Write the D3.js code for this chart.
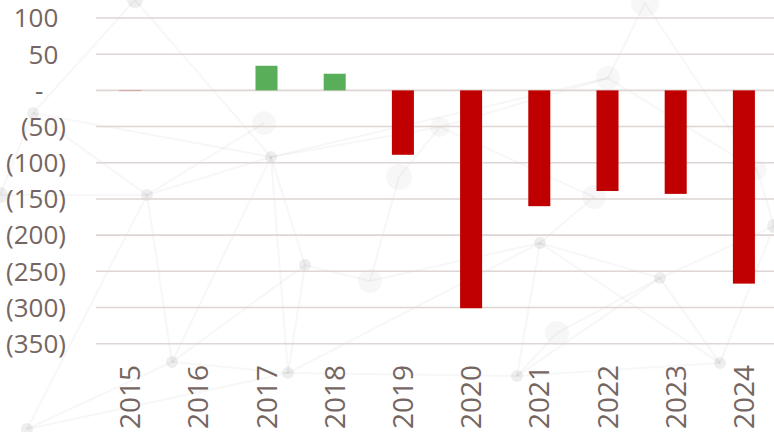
<!DOCTYPE html>
<html>
<head>
<meta charset="utf-8">
<script src="https://cdn.jsdelivr.net/npm/d3@7"></script>
<style>
  html, body { margin: 0; padding: 0; background: #fff; }
  svg { display: block; }
  text { font-family: "Open Sans", sans-serif; fill: #756661; }
</style>
</head>
<body>
<svg id="chart" width="774" height="432"></svg>
<script>
'use strict';

// chart data
const years = ['2015', '2016', '2017', '2018', '2019', '2020', '2021', '2022', '2023', '2024'];
const values = [-1, 0, 34, 23, -89, -301, -160, -139, -143, -267];
const yTicks = [100, 50, 0, -50, -100, -150, -200, -250, -300, -350];

// faint network decoration behind the chart (not data)
const bgNodes = [
  [33, 113, 6], [264, 123, 12], [271, 157, 6], [147, 195, 6], [399, 177, 13],
  [608, 78, 12], [645, 3, 14], [594, 197, 12], [305, 265, 6], [172, 362, 6],
  [288, 373, 6], [27, 429, 6], [370, 281, 12], [540, 243, 6], [660, 278, 6],
  [557, 333, 12], [517, 376, 6], [720, 363, 6], [774, 226, 7], [440, 127, 10],
  [757, 170, 10], [135, 0, 8], [0, 195, 8]
];
const bgLinks = [
  [0, 2], [0, 3], [0, 21], [2, 3], [2, 8], [2, 9], [2, 10], [2, 19], [2, 5],
  [3, 9], [3, 11], [3, 22], [8, 10], [8, 12], [8, 9], [9, 10], [9, 11], [10, 16],
  [12, 13], [13, 16], [13, 14], [13, 10], [13, 17], [14, 17], [14, 16], [14, 18],
  [14, 15], [5, 6], [5, 20], [5, 19], [4, 19], [19, 7], [7, 13], [17, 18], [20, 18],
  [16, 17], [11, 10], [21, 2], [6, 20], [15, 16], [1, 3], [4, 12], [22, 0]
];

const svg = d3.select('#chart');
const width = +svg.attr('width');

const x = d3.scaleBand()
  .domain(years)
  .range([96, 778])
  .paddingInner(0.677)
  .paddingOuter(0.3385);

const y = d3.scaleLinear()
  .domain([-350, 100])
  .range([343.7, 18]);

// background
const bg = svg.append('g').attr('class', 'bg');
bg.selectAll('line')
  .data(bgLinks)
  .enter().append('line')
    .attr('x1', d => bgNodes[d[0]][0])
    .attr('y1', d => bgNodes[d[0]][1])
    .attr('x2', d => bgNodes[d[1]][0])
    .attr('y2', d => bgNodes[d[1]][1])
    .attr('stroke', '#000')
    .attr('stroke-opacity', 0.03)
    .attr('stroke-width', 2.2);
bg.selectAll('circle')
  .data(bgNodes)
  .enter().append('circle')
    .attr('cx', d => d[0])
    .attr('cy', d => d[1])
    .attr('r', d => d[2])
    .attr('fill', '#000')
    .attr('fill-opacity', d => d[2] > 8 ? 0.03 : 0.065);

// gridlines
svg.append('g')
  .selectAll('line')
  .data(yTicks)
  .enter().append('line')
    .attr('x1', 96)
    .attr('x2', width)
    .attr('y1', d => y(d))
    .attr('y2', d => y(d))
    .attr('stroke', '#ddd6d3')
    .attr('stroke-width', 1.6);

// y labels in accounting style
const yLab = svg.append('g')
  .selectAll('text')
  .data(yTicks)
  .enter().append('text')
    .attr('x', 66)
    .attr('y', d => y(d))
    .attr('dy', '0.36em')
    .attr('text-anchor', 'end')
    .attr('font-size', 26);

yLab.each(function(d) {
  const t = d3.select(this);
  if (d < 0) {
    t.text(`(${d3.format(',')(-d)})`);
  } else if (d === 0) {
    t.append('tspan').text('-');
    t.append('tspan').attr('fill-opacity', 0).text('0)');
  } else {
    t.append('tspan').text(d3.format(',')(d));
    t.append('tspan').attr('fill-opacity', 0).text(')');
  }
});

// bars
svg.append('g')
  .selectAll('rect')
  .data(years.map((yr, i) => ({ year: yr, value: values[i] })))
  .enter().append('rect')
    .attr('x', d => x(d.year))
    .attr('width', x.bandwidth())
    .attr('y', d => y(Math.max(0, d.value)))
    .attr('height', d => Math.abs(y(d.value) - y(0)))
    .attr('fill', d => d.value >= 0 ? '#59af59' : '#c00000')
    .attr('fill-opacity', d => Math.abs(d.value) < 2 ? 0.35 : 1);

// x labels, rotated
svg.append('g')
  .selectAll('text')
  .data(years)
  .enter().append('text')
    .attr('transform', d => `translate(${x(d) + x.bandwidth() / 2}, 365) rotate(-90)`)
    .attr('dy', '0.36em')
    .attr('text-anchor', 'end')
    .attr('font-size', 28)
    .text(d => d);
</script>
</body>
</html>
